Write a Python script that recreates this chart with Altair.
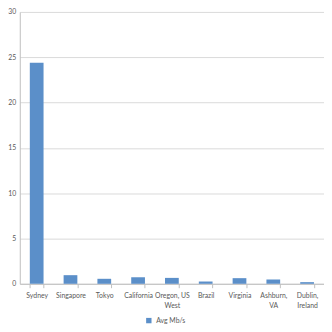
import altair as alt
import pandas as pd

categories = ["Sydney", "Singapore", "Tokyo", "California", "Oregon, US West",
              "Brazil", "Virginia", "Ashburn, VA", "Dublin, Ireland"]
label_lines = [["Sydney"], ["Singapore"], ["Tokyo"], ["California"], ["Oregon, US", "West"],
               ["Brazil"], ["Virginia"], ["Ashburn,", "VA"], ["Dublin,", "Ireland"]]
values = [24.4, 0.95, 0.55, 0.72, 0.65, 0.25, 0.62, 0.47, 0.18]
series = "Avg Mb/s"
y_ticks = [0, 5, 10, 15, 20, 25, 30]

df = pd.DataFrame({"city": categories, "value": values, "series": series})

mapping = "{" + ", ".join(
    '"%s": [%s]' % (c, ", ".join('"%s"' % l for l in lines))
    for c, lines in zip(categories, label_lines)) + "}"

font = "Lato"
grey = "#595959"

chart = alt.Chart(df).mark_bar(size=14).encode(
    x=alt.X("city:N", sort=categories, title=None,
            scale=alt.Scale(paddingInner=0.6, paddingOuter=0.3),
            axis=alt.Axis(labelAngle=0, labelExpr=mapping + "[datum.label]",
                          labelFont=font, labelFontSize=7, labelColor=grey,
                          domainColor="#BFBFBF", tickColor="#BFBFBF", tickSize=4,
                          tickBand="extent", labelPadding=4, labelLineHeight=10)),
    y=alt.Y("value:Q", title=None,
            scale=alt.Scale(domain=[0, 30], nice=False),
            axis=alt.Axis(values=y_ticks, labelFont=font, labelFontSize=7, labelColor=grey,
                          domainColor="#BFBFBF", gridColor="#D9D9D9", ticks=False,
                          labelPadding=4)),
    color=alt.Color("series:N", scale=alt.Scale(range=["#5B8FC9"]),
                    legend=alt.Legend(title=None, orient="none", legendX=128, legendY=311,
                                      symbolType="square", symbolSize=30, labelFont=font,
                                      labelFontSize=7, labelColor=grey)),
).properties(
    width=310, height=277,
    autosize=alt.AutoSizeParams(type="none"),
    padding={"left": 12, "top": 1, "right": 0, "bottom": 40},
).configure_view(stroke=None).configure_axisX(grid=False)

chart.save("out.html", embed_options={"renderer": "svg", "actions": False})
